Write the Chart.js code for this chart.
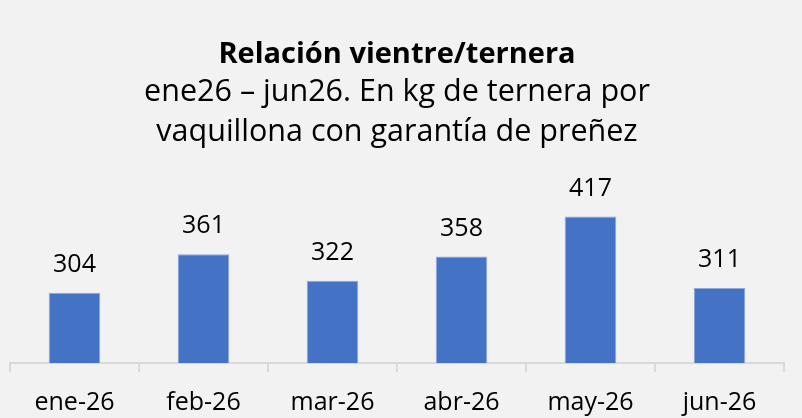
<!DOCTYPE html>
<html>
<head>
<meta charset="utf-8">
<script src="https://cdn.jsdelivr.net/npm/chart.js@4"></script>
<style>
  body{margin:0;background:#f2f2f2;}
  #box{width:802px;height:418px;}
</style>
</head>
<body>
<div id="box"><canvas id="myChart"></canvas></div>
<script>
// datos del grafico
const meses = ["ene-26","feb-26","mar-26","abr-26","may-26","jun-26"]
const kgTernera = [304,361,322,358,417,311]
const titulo = "Relación vientre/ternera"
const subtitulo = ["ene26 – jun26. En kg de ternera por","vaquillona con garantía de preñez"]

const fuente = "'Open Sans'"

// etiquetas arriba de cada barra
const etiquetas = {
  id:"etiquetas",
  afterDatasetsDraw(chart){
    let ctx = chart.ctx
    let meta = chart.getDatasetMeta(0)
    ctx.save()
    ctx.font = "25px " + fuente
    ctx.fillStyle = "#000"
    ctx.textAlign = "center"
    ctx.textBaseline = "middle"
    meta.data.forEach((bar,i)=>{
      ctx.fillText(chart.data.datasets[0].data[i], bar.x, bar.y - 28)
    })
    ctx.restore()
  }
}

new Chart(document.getElementById("myChart"), {
  type:"bar",
  data:{
    labels:meses,
    datasets:[{
      data:kgTernera,
      backgroundColor:"#4472C4",
      borderColor:"#8faadc",
      borderWidth:1,
      categoryPercentage:1,
      barPercentage:0.4
    }]
  },
  options:{
    responsive:true,
    maintainAspectRatio:false,
    animation:false,
    layout:{padding:{left:10,right:18,top:0,bottom:0}},
    plugins:{
      legend:{display:false},
      tooltip:{enabled:false},
      title:{
        display:true,
        text:titulo,
        color:"#000",
        font:{family:fuente,size:29,weight:"bold",lineHeight:1.2},
        padding:{top:37,bottom:0}
      },
      subtitle:{
        display:true,
        text:subtitulo,
        color:"#000",
        font:{family:fuente,size:30.5,lineHeight:1.32},
        padding:{top:0,bottom:42}
      }
    },
    scales:{
      y:{display:false,min:200,max:450},
      x:{
        afterFit(scale){ scale.height = 55 },
        grid:{drawOnChartArea:false,drawTicks:true,tickLength:9,color:"#d9d9d9",lineWidth:2},
        border:{display:true,color:"#d9d9d9",width:2},
        ticks:{color:"#000",font:{family:fuente,size:25,lineHeight:1.2},padding:16}
      }
    }
  },
  plugins:[etiquetas]
})
</script>
</body>
</html>
